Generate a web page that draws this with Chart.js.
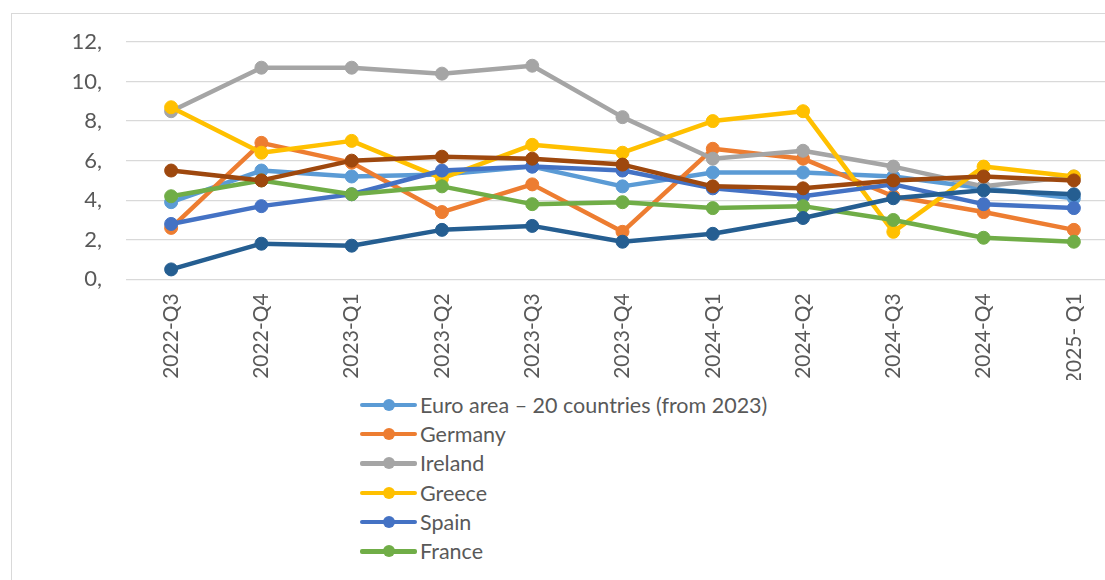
<!DOCTYPE html>
<html>
<head>
<meta charset="utf-8">
<script src="https://cdn.jsdelivr.net/npm/chart.js@4"></script>
<style>
  html, body { margin: 0; padding: 0; background: #fff; overflow: hidden; width: 1105px; height: 580px; }
  #frame { position: absolute; left: 11px; top: 13px; width: 1200px; height: 700px;
           border-left: 1px solid #d9d9d9; border-top: 1px solid #d9d9d9; }
  #wrap { position: absolute; left: 0; top: 0; width: 1130px; height: 380px; }
  #legend { position: absolute; left: 360px; top: 390px; height: 178px; overflow: hidden;
            font-family: Lato, sans-serif; font-size: 21.5px; color: #595959; }
  .item { height: 29.3px; display: flex; align-items: center; white-space: nowrap; }
  .mark { position: relative; width: 57px; height: 29px; margin-right: 3px; }
  .mark .ln { position: absolute; left: 0; right: 0; top: 12.5px; height: 4.5px; border-radius: 2px; }
  .mark .pt { position: absolute; left: 22.5px; top: 8.5px; width: 12px; height: 12px; border-radius: 50%; }
</style>
</head>
<body>
<div id="frame"></div>
<div id="wrap"><canvas id="myChart"></canvas></div>
<div id="legend"></div>
<script>
var quarters = ["2022-Q3", "2022-Q4", "2023-Q1", "2023-Q2", "2023-Q3", "2023-Q4",
                "2024-Q1", "2024-Q2", "2024-Q3", "2024-Q4", "2025- Q1"];
var euroArea = [3.9, 5.5, 5.2, 5.3, 5.7, 4.7, 5.4, 5.4, 5.2, 4.6, 4.1];
var germany  = [2.6, 6.9, 5.9, 3.4, 4.8, 2.4, 6.6, 6.1, 4.2, 3.4, 2.5];
var ireland  = [8.5, 10.7, 10.7, 10.4, 10.8, 8.2, 6.1, 6.5, 5.7, 4.7, 5.2];
var greece   = [8.7, 6.4, 7.0, 5.1, 6.8, 6.4, 8.0, 8.5, 2.4, 5.7, 5.2];
var spain    = [2.8, 3.7, 4.3, 5.5, 5.7, 5.5, 4.6, 4.2, 4.8, 3.8, 3.6];
var france   = [4.2, 5.0, 4.3, 4.7, 3.8, 3.9, 3.6, 3.7, 3.0, 2.1, 1.9];
var series7  = [0.5, 1.8, 1.7, 2.5, 2.7, 1.9, 2.3, 3.1, 4.1, 4.5, 4.3];
var series8  = [5.5, 5.0, 6.0, 6.2, 6.1, 5.8, 4.7, 4.6, 5.0, 5.2, 5.0];
var yTicks = [0, 2, 4, 6, 8, 10, 12];

var names  = ["Euro area \u2013 20 countries (from 2023)", "Germany", "Ireland", "Greece", "Spain", "France", "Series 7", "Series 8"];
var values = [euroArea, germany, ireland, greece, spain, france, series7, series8];
var colors = ['#5B9BD5', '#ED7D31', '#A5A5A5', '#FFC000', '#4472C4', '#70AD47', '#255E91', '#9E480E'];

var datasets = names.map(function (n, i) {
    return {
        label: n,
        data: values[i],
        borderColor: colors[i],
        backgroundColor: colors[i],
        pointBackgroundColor: colors[i],
        pointBorderColor: colors[i],
        borderWidth: 4.5,
        pointRadius: 6.5,
        pointBorderWidth: 1,
        borderJoinStyle: 'round',
        borderCapStyle: 'round',
        tension: 0,
        // later series drawn on top, like the original
        order: names.length - i
    };
});

var ctx = document.getElementById('myChart').getContext('2d');
var chart = new Chart(ctx, {
    type: 'line',
    data: { labels: quarters, datasets: datasets },
    options: {
        responsive: true,
        maintainAspectRatio: false,
        animation: false,
        layout: { padding: { top: 42, right: 11, left: 0, bottom: 0 } },
        plugins: { legend: { display: false }, tooltip: { enabled: false } },
        scales: {
            x: {
                offset: true,
                grid: { display: false, drawTicks: false },
                border: { display: false },
                ticks: {
                    minRotation: 90, maxRotation: 90, padding: 14,
                    color: '#595959', font: { family: 'Lato', size: 21 }
                },
                afterFit: function (s) { s.height = 100.7; }
            },
            y: {
                min: 0, max: 12,
                afterBuildTicks: function (s) { s.ticks = yTicks.map(function (v) { return { value: v }; }); },
                grid: { color: '#d9d9d9', lineWidth: 1.3, drawTicks: false },
                border: { display: false },
                ticks: {
                    padding: 24, color: '#595959', font: { family: 'Lato', size: 22 },
                    callback: function (v) { return v + ','; }
                },
                afterFit: function (s) { s.width = 126; }
            }
        }
    }
});

// legend, one entry per row
var lg = document.getElementById('legend');
names.forEach(function (n, i) {
    var row = document.createElement('div');
    row.className = 'item';
    row.innerHTML = '<span class="mark"><span class="ln" style="background:' + colors[i] +
        '"></span><span class="pt" style="background:' + colors[i] + '"></span></span><span>' + n + '</span>';
    lg.appendChild(row);
});
</script>
</body>
</html>
